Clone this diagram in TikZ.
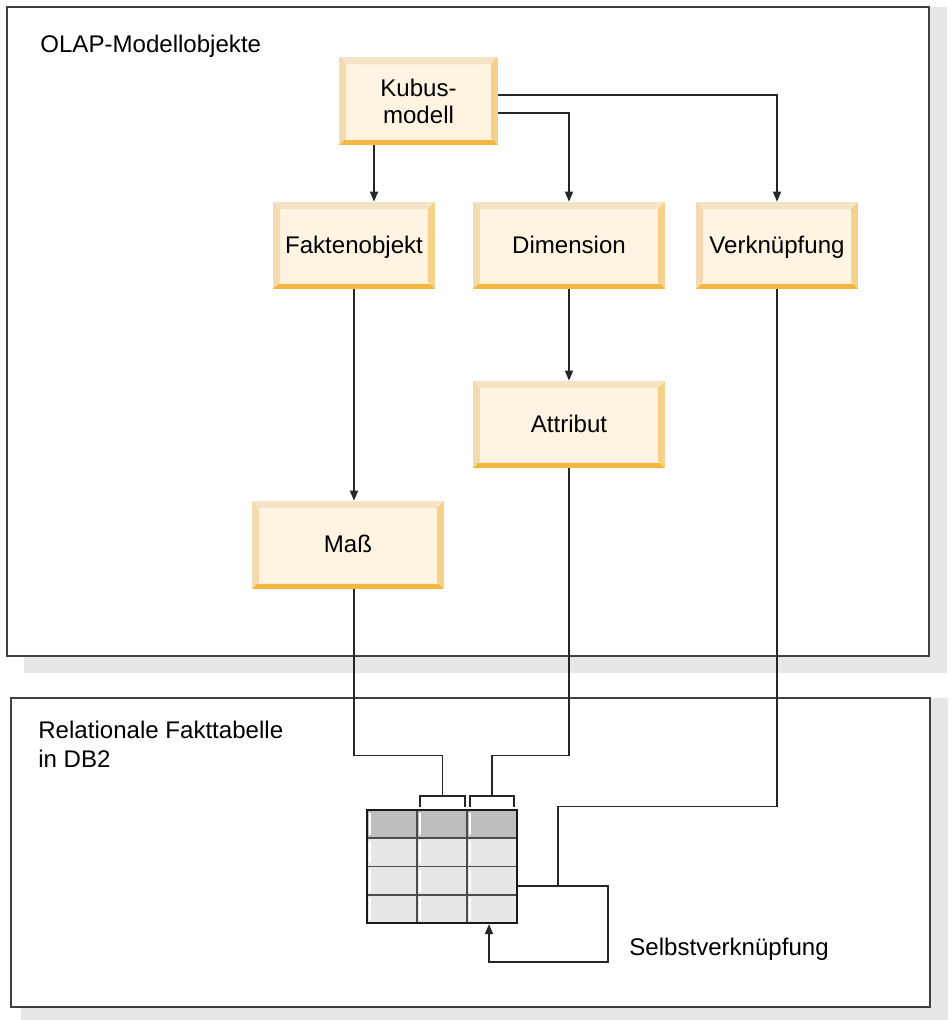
\documentclass[tikz,border=0pt]{standalone}
\usepackage{fontspec}
\setmainfont{Liberation Sans}
\usetikzlibrary{arrows.meta,calc}

\begin{document}
\begin{tikzpicture}[x=0.02cm, y=-0.02cm,
    font=\fontsize{13.7pt}{15.3pt}\selectfont,
    objbox/.style={fill=boxfill, minimum height=1.74cm, inner sep=0pt, align=center,
        path picture={
            \fill[bevtop] (path picture bounding box.north west) -- (path picture bounding box.north east)
                -- ($(path picture bounding box.north east)+(-0.14cm,-0.14cm)$)
                -- ($(path picture bounding box.north west)+(0.14cm,-0.14cm)$) -- cycle;
            \fill[bevleft] (path picture bounding box.north west) -- ($(path picture bounding box.north west)+(0.14cm,-0.14cm)$)
                -- ($(path picture bounding box.south west)+(0.14cm,0.14cm)$)
                -- (path picture bounding box.south west) -- cycle;
            \fill[bevright] (path picture bounding box.north east) -- (path picture bounding box.south east)
                -- ($(path picture bounding box.south east)+(-0.14cm,0.14cm)$)
                -- ($(path picture bounding box.north east)+(-0.14cm,-0.14cm)$) -- cycle;
            \fill[bevbot] (path picture bounding box.south west) -- (path picture bounding box.south east)
                -- ($(path picture bounding box.south east)+(-0.1cm,0.1cm)$)
                -- ($(path picture bounding box.south west)+(0.1cm,0.1cm)$) -- cycle;
        }},
    oneline/.style={text height=0.89em, text depth=0pt},
    conn/.style={draw=black!85, line width=0.8pt},
    arr/.style={conn, -{Triangle[length=0.2cm,width=0.16cm]}},
    framebox/.style={draw=black!75, line width=0.8pt, fill=white}]

    % Define colors
    \definecolor{boxfill}{HTML}{FEF4E1}
    \definecolor{bevtop}{HTML}{F5E3C6}
    \definecolor{bevleft}{HTML}{F3DAB0}
    \definecolor{bevright}{HTML}{F6D18A}
    \definecolor{bevbot}{HTML}{F3B63E}
    \definecolor{shadowgray}{HTML}{E6E7E6}
    \definecolor{cellhead}{HTML}{BDBEBF}
    \definecolor{cellbody}{HTML}{E6E7E8}

    \useasboundingbox (0,0) rectangle (950,1020);

    % Frames with shadows
    \fill[shadowgray] (24,7) rectangle (947,673);
    \draw[framebox] (7,7) rectangle (929,656);
    \fill[shadowgray] (21,698) rectangle (948,1020);
    \draw[framebox] (11,698) rectangle (930,1007);

    \node[anchor=base west, inner sep=0] (olaptitle) at (40,53) {OLAP-Modellobjekte};
    \node[anchor=north west, inner sep=0, align=left, font=\fontsize{13.7pt}{16.4pt}\selectfont] (dbtitle) at (38,721) {Relationale Fakttabelle\\in DB2};

    % Model objects
    \node[objbox, minimum width=3.18cm, minimum height=1.76cm] (kubus) at (418.5,101) {Kubus-\\modell};
    \node[objbox, oneline, minimum width=3.24cm] (fakt) at (354,245.5) {Faktenobjekt};
    \node[objbox, oneline, minimum width=3.84cm] (dim) at (569,245.5) {Dimension};
    \node[objbox, oneline, minimum width=3.24cm] (verk) at (777,245.5) {Verknüpfung};
    \node[objbox, oneline, minimum width=3.84cm] (attr) at (569,424.5) {Attribut};
    \node[objbox, oneline, minimum width=3.84cm, minimum height=1.76cm] (mass) at (348,545) {Maß};

    % Fact table
    \fill[cellhead] (367,810) rectangle (517,838.25);
    \fill[cellbody] (367,838.25) rectangle (517,923);
    \foreach \x in {367,417,467} {
        \foreach \y in {810,838.25,866.5,894.75} {
            \draw[white, line width=0.7pt] (\x+3,\y+3) -- (\x+3,\y+25);
        }
    }
    \foreach \x in {417,467} \draw[black!70, line width=0.9pt] (\x,810) -- (\x,923);
    \foreach \y in {838.25,866.5,894.75} \draw[black!70, line width=0.9pt] (367,\y) -- (517,\y);
    \node[draw=black!90, line width=1.3pt, minimum width=3cm, minimum height=2.26cm, inner sep=0] (tab) at (442,866.5) {};

    % Column brackets
    \coordinate (brk1) at (442.5,796);
    \coordinate (brk2) at (492,796);
    \draw[conn] (420,807) |- (465,796) -- (465,807);
    \draw[conn] (470,807) |- (514,796) -- (514,807);

    % Connectors
    \draw[arr] ([xshift=-0.89cm]kubus.south) -- ([xshift=-0.89cm]kubus.south |- fakt.north);
    \draw[arr] ([yshift=-0.24cm]kubus.east) -| (dim.north);
    \draw[arr] ([yshift=0.12cm]kubus.east) -| (verk.north);
    \draw[arr] (fakt.south) -- (fakt.south |- mass.north);
    \draw[arr] (dim.south) -- (attr.north);
    \draw[conn] (fakt.south |- mass.south) -- ++(0,166) -| (brk1);
    \draw[conn] (attr.south) -- ++(0,287) -| (brk2);

    \coordinate (tabout) at ([yshift=-0.39cm]tab.east);
    \coordinate (tabjoin) at ([xshift=0.8cm]tabout);
    \draw[conn] (verk.south) -- ++(0,517) -| (tabjoin);
    \draw[arr] (tabout) -- ++(90,0) -- ++(0,76) -| ([xshift=0.94cm]tab.south);

    \node[anchor=base west, inner sep=0] (selflabel) at (629,955) {Selbstverknüpfung};
\end{tikzpicture}
\end{document}
